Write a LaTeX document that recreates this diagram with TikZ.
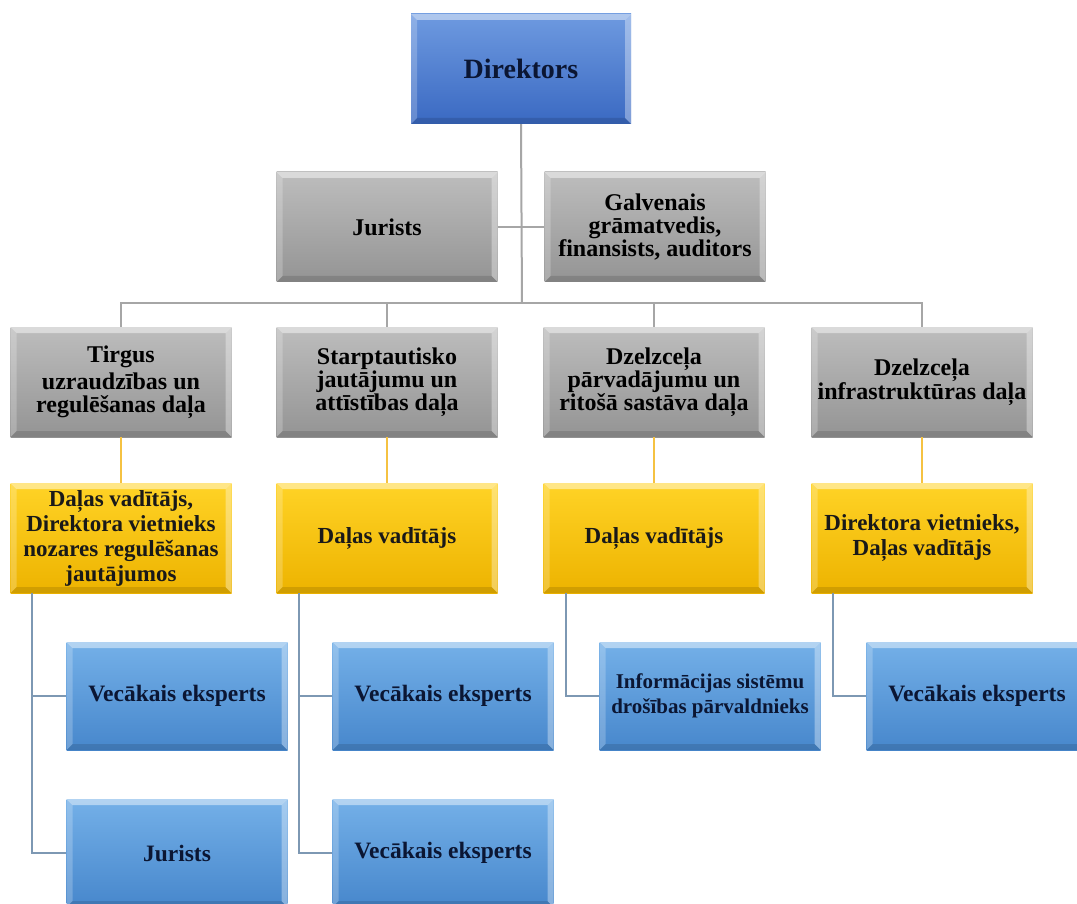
\documentclass[tikz,border=0pt]{standalone}
\usepackage{fontspec}
\setmainfont{Liberation Serif}
\definecolor{dirT}{HTML}{6E9AE0}
\definecolor{dirB}{HTML}{3A69C2}
\definecolor{grT}{HTML}{BDBDBD}
\definecolor{grB}{HTML}{949494}
\definecolor{yeT}{HTML}{FFD326}
\definecolor{yeB}{HTML}{EDB300}
\definecolor{blT}{HTML}{74B0E8}
\definecolor{blB}{HTML}{4787CC}
\definecolor{navy}{HTML}{0B1633}
\definecolor{lnGray}{HTML}{A6A6A6}
\definecolor{lnYel}{HTML}{F5C242}
\definecolor{lnBlue}{HTML}{7D98B3}
\newcommand\boxbevel{%
  \fill[white,opacity=.45] (path picture bounding box.north west) -- (path picture bounding box.north east)
    -- ([xshift=-6pt,yshift=-6pt]path picture bounding box.north east) -- ([xshift=6pt,yshift=-6pt]path picture bounding box.north west) -- cycle;
  \fill[white,opacity=.22] (path picture bounding box.north west) -- ([xshift=6pt,yshift=-6pt]path picture bounding box.north west)
    -- ([xshift=6pt,yshift=6pt]path picture bounding box.south west) -- (path picture bounding box.south west) -- cycle;
  \fill[white,opacity=.35] (path picture bounding box.north east) -- ([xshift=-6pt,yshift=-6pt]path picture bounding box.north east)
    -- ([xshift=-6pt,yshift=6pt]path picture bounding box.south east) -- (path picture bounding box.south east) -- cycle;
  \fill[black,opacity=.12] (path picture bounding box.south west) -- ([xshift=6pt,yshift=6pt]path picture bounding box.south west)
    -- ([xshift=-6pt,yshift=6pt]path picture bounding box.south east) -- (path picture bounding box.south east) -- cycle;
}
\tikzset{
  box/.style={rectangle, minimum width=221pt, minimum height=110pt, inner sep=1pt, align=center, path picture={\boxbevel}},
  dirbox/.style={box, minimum width=220pt, top color=dirT, bottom color=dirB, text=navy, font=\bfseries\fontsize{28}{30}\selectfont},
  graybox/.style={box, top color=grT, bottom color=grB, text=black, font=\bfseries\fontsize{24}{23}\selectfont},
  yelbox/.style={box, top color=yeT, bottom color=yeB, text=black!90, font=\bfseries\fontsize{23}{25}\selectfont},
  bluebox/.style={box, minimum height=108pt, top color=blT, bottom color=blB, text=navy, font=\bfseries\fontsize{23.5}{25}\selectfont},
  gl/.style={draw=lnGray, line width=2pt},
  yl/.style={draw=lnYel, line width=2.5pt},
  bl/.style={draw=lnBlue, line width=1.8pt},
}
\begin{document}
\begin{tikzpicture}[x=1pt,y=-1pt]
\useasboundingbox (0,0) rectangle (1077,904);
\clip (0,0) rectangle (1077,904);
\fill[white] (0,0) rectangle (1077,904);
% nodes
\node[dirbox] (dir) at (521,69) {Direktors};
\node[graybox] (jur) at (387,227) {Jurists};
\node[graybox] (gal) at (655,227) {Galvenais\\ grāmatvedis,\\ finansists, auditors};
\node[graybox] (g1) at (121,382) {Tirgus\\[4pt] uzraudzības un\\ regulēšanas daļa};
\node[graybox] (g2) at (387,382) {Starptautisko\\ jautājumu un\\ attīstības daļa};
\node[graybox] (g3) at (654,382) {Dzelzceļa\\ pārvadājumu un\\ ritošā sastāva daļa};
\node[graybox] (g4) at (922,382) {Dzelzceļa\\ infrastruktūras daļa};
\node[yelbox] (y1) at (121,538) {Daļas vadītājs,\\ Direktora vietnieks\\ nozares regulēšanas\\ jautājumos};
\node[yelbox] (y2) at (387,538) {Daļas vadītājs};
\node[yelbox] (y3) at (654,538) {Daļas vadītājs};
\node[yelbox] (y4) at (922,538) {Direktora vietnieks,\\ Daļas vadītājs};
\node[bluebox] (b11) at (177,696) {Vecākais eksperts};
\node[bluebox] (b12) at (177,853) {Jurists};
\node[bluebox] (b21) at (443,696) {Vecākais eksperts};
\node[bluebox] (b22) at (443,853) {Vecākais eksperts};
\node[bluebox, font=\bfseries\fontsize{21}{25}\selectfont] (b3) at (710,696) {Informācijas sistēmu\\ drošības pārvaldnieks};
\node[bluebox] (b4) at (977,696) {Vecākais eksperts};
% connectors
\coordinate (bus) at (522,303);
\draw[gl] (dir.south) -- (bus);
\draw[gl] (jur.east) -- (gal.west);
\draw[gl] (g1.north) |- (bus) -| (g4.north);
\draw[gl] (g2.north) -- (g2.north |- bus);
\draw[gl] (g3.north) -- (g3.north |- bus);
\draw[yl] (g1.south) -- (y1.north);
\draw[yl] (g2.south) -- (y2.north);
\draw[yl] (g3.south) -- (y3.north);
\draw[yl] (g4.south) -- (y4.north);
\draw[bl] ([xshift=22pt]y1.south west) |- (b12.west);
\draw[bl] ([xshift=22pt]y1.south west) |- (b11.west);
\draw[bl] ([xshift=23pt]y2.south west) |- (b22.west);
\draw[bl] ([xshift=23pt]y2.south west) |- (b21.west);
\draw[bl] ([xshift=23pt]y3.south west) |- (b3.west);
\draw[bl] ([xshift=22pt]y4.south west) |- (b4.west);
\end{tikzpicture}
\end{document}
